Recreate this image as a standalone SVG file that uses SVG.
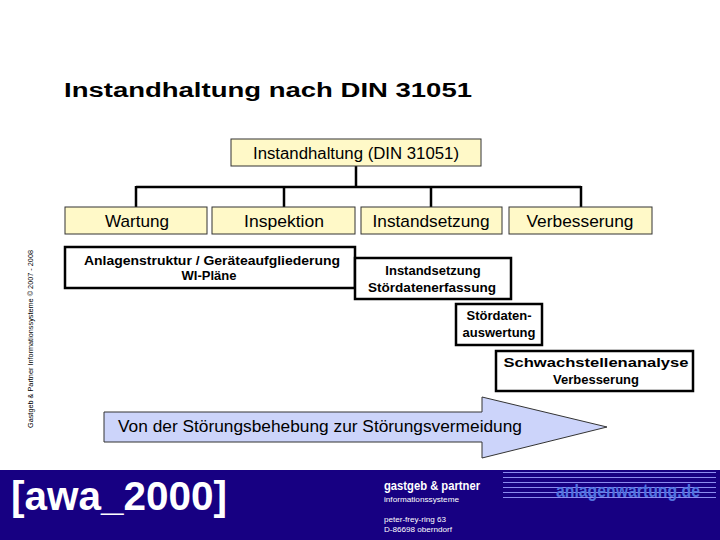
<svg xmlns="http://www.w3.org/2000/svg" width="720" height="540" viewBox="0 0 720 540">
<style>
.t{font-family:"Liberation Sans",Arial,sans-serif;fill:#000}
.yb{fill:#FFF9C8;stroke:#333;stroke-width:1}
.wb{fill:#fff;stroke:#000;stroke-width:2.5}
.lbl{font-size:17px;text-anchor:middle}
.bt{font-size:13px;font-weight:bold;text-anchor:middle}
.con{fill:none;stroke:#000;stroke-width:2.5}
.fl{stroke:#8C8CF0;stroke-width:1}
.ft{font-family:"Liberation Sans",Arial,sans-serif;fill:#fff}
</style>
<rect width="720" height="540" fill="#fff"/>
<text class="t" x="64" y="97" font-size="20" font-weight="bold" textLength="408" lengthAdjust="spacingAndGlyphs">Instandhaltung nach DIN 31051</text>
<text class="t" transform="translate(33,428) rotate(-90)" font-size="7" textLength="178" lengthAdjust="spacingAndGlyphs">Gastgeb &amp; Partner Informationssysteme © 2007 - 2008</text>
<g id="connectors">
<path class="con" d="M356,166 V187 M136,187 H581 M136,186 V207 M284,186 V207 M431,186 V207 M581,186 V207"/>
</g>
<g id="root"><rect class="yb" x="231" y="139" width="250" height="27"/><text class="t" x="356" y="159" font-size="16" text-anchor="middle" textLength="206" lengthAdjust="spacingAndGlyphs">Instandhaltung (DIN 31051)</text></g>
<g id="wartung"><rect class="yb" x="65" y="207" width="142" height="27"/><text class="t lbl" x="137" y="227" textLength="64" lengthAdjust="spacingAndGlyphs">Wartung</text></g>
<g id="inspektion"><rect class="yb" x="212" y="207" width="143" height="27"/><text class="t lbl" x="284" y="227" textLength="80" lengthAdjust="spacingAndGlyphs">Inspektion</text></g>
<g id="instandsetzung"><rect class="yb" x="361" y="207" width="141" height="27"/><text class="t lbl" x="431" y="227" textLength="117" lengthAdjust="spacingAndGlyphs">Instandsetzung</text></g>
<g id="verbesserung"><rect class="yb" x="509" y="207" width="143" height="27"/><text class="t lbl" x="580" y="227" textLength="107" lengthAdjust="spacingAndGlyphs">Verbesserung</text></g>
<g id="anlagenstruktur"><rect class="wb" x="65" y="247" width="290" height="41"/><text class="t bt" x="212" y="265" textLength="256" lengthAdjust="spacingAndGlyphs">Anlagenstruktur / Geräteaufgliederung</text><text class="t bt" x="209" y="280">WI-Pläne</text></g>
<g id="stoerdatenerfassung"><rect class="wb" x="355" y="258" width="156" height="41"/><text class="t bt" x="433" y="275">Instandsetzung</text><text class="t bt" x="432" y="292" textLength="128" lengthAdjust="spacingAndGlyphs">Stördatenerfassung</text></g>
<g id="stoerdatenauswertung"><rect class="wb" x="456" y="304" width="86" height="41"/><text class="t bt" x="499" y="320">Stördaten-</text><text class="t bt" x="499" y="337">auswertung</text></g>
<g id="schwachstellen"><rect class="wb" x="496" y="351" width="197" height="40"/><text class="t bt" x="596" y="367" textLength="185" lengthAdjust="spacingAndGlyphs">Schwachstellenanalyse</text><text class="t bt" x="596" y="384">Verbesserung</text></g>
<g id="arrow"><path d="M104,412 H482 V397 L607,427 L482,458 V442 H104 Z" fill="#CCD4FA" stroke="#333" stroke-width="1"/><text class="t" x="118" y="432" font-size="16" textLength="404" lengthAdjust="spacingAndGlyphs">Von der Störungsbehebung zur Störungsvermeidung</text></g>
<g id="footer">
<rect x="0" y="470" width="720" height="70" fill="#170082"/>
<text class="ft" x="11" y="510" font-size="40" font-weight="bold" textLength="216" lengthAdjust="spacingAndGlyphs">[awa_2000]</text>
<text class="ft" x="384" y="490" font-size="12" font-weight="bold" textLength="96" lengthAdjust="spacingAndGlyphs">gastgeb &amp; partner</text>
<text class="ft" x="384" y="502" font-size="8" textLength="75" lengthAdjust="spacingAndGlyphs">informationssysteme</text>
<text class="ft" x="384" y="522" font-size="8" textLength="62" lengthAdjust="spacingAndGlyphs">peter-frey-ring 63</text>
<text class="ft" x="384" y="532" font-size="8" textLength="68" lengthAdjust="spacingAndGlyphs">D-86698 oberndorf</text>
<path class="fl" d="M503,472.5 H716 M503,477.5 H716 M503,482.5 H716 M503,487.5 H716 M503,492.5 H716 M503,497.5 H716"/>
<text x="556" y="497" font-family="'Liberation Sans',Arial,sans-serif" font-size="18" font-weight="bold" fill="#5274E0" textLength="144" lengthAdjust="spacingAndGlyphs">anlagenwartung.de</text>
</g>
</svg>
